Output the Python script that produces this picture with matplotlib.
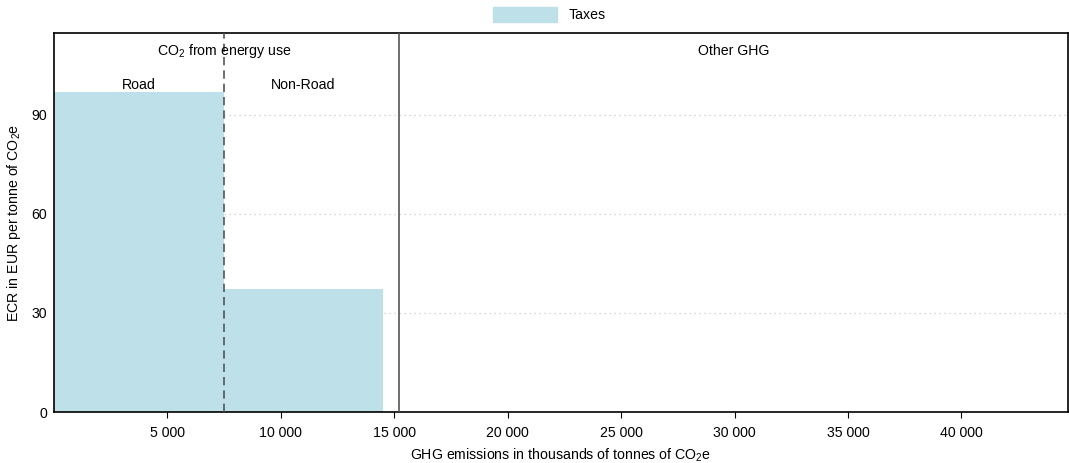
import matplotlib
matplotlib.use('Agg')
import matplotlib.pyplot as plt
from matplotlib.patches import Patch

plt.rcParams['font.family'] = ['Liberation Sans', 'DejaVu Sans']
plt.rcParams['mathtext.fontset'] = 'custom'
plt.rcParams['mathtext.rm'] = 'Liberation Sans'
plt.rcParams['mathtext.it'] = 'Liberation Sans:italic'

# ###############
# Data
segments = ['Road', 'Non-Road']
emissions = [7490, 7000]          # thousands of tonnes CO2e (bar widths)
ecr_taxes = [97.0, 37.3]          # EUR per tonne CO2e
energy_total = 15200              # end of "CO2 from energy use" block
x_max = 44700
y_max = 114.8
y_ticks = [0, 30, 60, 90]
x_ticks = [5000, 10000, 15000, 20000, 25000, 30000, 35000, 40000]
x_ticklabels = ['5 000', '10 000', '15 000', '20 000', '25 000', '30 000', '35 000', '40 000']

bar_color = '#bee0e9'

fig = plt.figure(figsize=(10.69, 4.63), dpi=100)
ax = fig.add_axes([54/1069, 1-412/463, (1068-54)/1069, (412-33)/463])

# bars with variable width
lefts = [0]
for w in emissions[:-1]:
    lefts.append(lefts[-1] + w)
ax.bar(lefts, ecr_taxes, width=emissions, align='edge', color=bar_color,
       edgecolor='none', zorder=2)

# dotted grid
for yv in y_ticks[1:]:
    ax.axhline(yv, color='#c8c8c8', lw=0.9, ls=(0, (1, 3)), zorder=1)

# separators
ax.axvline(lefts[1], color='#555555', lw=1.2, ls=(0, (5, 3)), zorder=3)
ax.axvline(energy_total, color='#555555', lw=1.2, zorder=3)

ax.set_xlim(0, x_max)
ax.set_ylim(0, y_max)
ax.set_xticks(x_ticks)
ax.set_xticklabels(x_ticklabels)
ax.set_yticks(y_ticks)
fs = 10.2
ax.tick_params(axis='y', length=0, labelsize=fs, pad=5)
ax.tick_params(axis='x', length=4, labelsize=fs, direction='out', pad=6)

for s in ax.spines.values():
    s.set_linewidth(1.2)

ax.text(lefts[1], 109.4, r'CO$_2$ from energy use', ha='center', va='center', fontsize=fs)
for l, w, name in zip(lefts, emissions, segments):
    ax.text(l + w/2, 99.1, name, ha='center', va='center', fontsize=fs)
ax.text((energy_total + x_max)/2, 109.4, 'Other GHG', ha='center', va='center', fontsize=fs)

ax.set_xlabel(r'GHG emissions in thousands of tonnes of CO$_2$e', fontsize=fs, labelpad=5)
ax.set_ylabel(r'ECR in EUR per tonne of CO$_2$e', fontsize=fs, labelpad=6)

fig.legend(handles=[Patch(color=bar_color, label='Taxes')], loc='upper center',
           bbox_to_anchor=(0.514, 1.0), frameon=False, fontsize=fs,
           handlelength=4.5, handleheight=1.2, borderaxespad=0.1)

fig.savefig('out.png', dpi=100)
